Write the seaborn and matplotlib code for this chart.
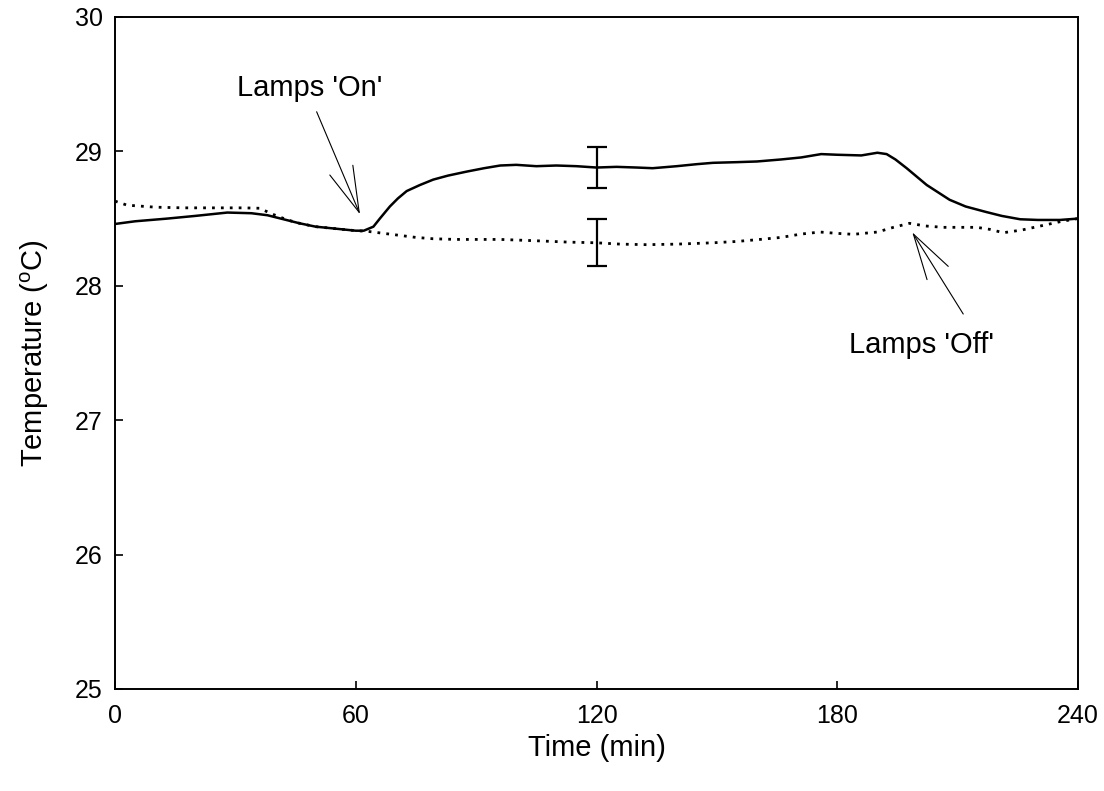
import matplotlib
matplotlib.use("Agg")
import matplotlib.pyplot as plt
import seaborn as sns
import pandas as pd

# Lamps 'On' trace (solid)
time_on = [0, 5, 13, 20, 28, 34, 38, 42, 46, 50, 55, 60, 62, 64.4, 66, 68.5, 70.5, 72.7,
           76, 79.3, 83, 87.7, 92, 96, 100, 105, 110, 115, 120, 125, 130, 134, 140, 145,
           149, 155, 160, 166, 171, 176, 180, 186, 190, 192.3, 194.5, 197.3, 202.3, 208,
           212, 217, 221, 225.6, 230, 235.5, 240]
temp_on = [28.46, 28.48, 28.50, 28.52, 28.545, 28.54, 28.525, 28.495, 28.465, 28.44, 28.425,
           28.41, 28.41, 28.44, 28.50, 28.59, 28.65, 28.705, 28.75, 28.79, 28.82, 28.85,
           28.875, 28.895, 28.90, 28.89, 28.895, 28.89, 28.88, 28.885, 28.88, 28.875, 28.89,
           28.905, 28.915, 28.92, 28.925, 28.94, 28.955, 28.98, 28.975, 28.97, 28.99, 28.98,
           28.94, 28.875, 28.75, 28.64, 28.59, 28.55, 28.52, 28.495, 28.49, 28.49, 28.50]

# Lamps 'Off' trace (dotted)
time_off = [0, 3, 10, 17, 25, 32, 36, 39.5, 43, 46, 50, 55, 60, 63, 67, 71, 75, 79.3, 85, 91,
            96, 105, 113, 120, 126, 132.5, 140, 149, 155, 160.7, 166, 171, 175.7, 180, 184,
            190, 194, 198, 202, 206.4, 214.8, 218, 221.4, 226, 231.4, 236, 240]
temp_off = [28.63, 28.60, 28.585, 28.58, 28.58, 28.58, 28.577, 28.53, 28.49, 28.465, 28.44,
            28.425, 28.41, 28.405, 28.39, 28.375, 28.36, 28.35, 28.345, 28.345, 28.345, 28.335,
            28.325, 28.32, 28.31, 28.306, 28.31, 28.32, 28.33, 28.345, 28.36, 28.385, 28.40,
            28.39, 28.383, 28.40, 28.435, 28.465, 28.445, 28.435, 28.435, 28.42, 28.395,
            28.415, 28.45, 28.48, 28.50]

# Error bars at t = 120 min
err_time = [120, 120]
err_mean = [28.88, 28.325]
err_size = [0.15, 0.175]

x_ticks = [0, 60, 120, 180, 240]
y_ticks = [25, 26, 27, 28, 29, 30]

sns.set_theme(style="ticks")
plt.rcParams["font.family"] = ["Liberation Sans", "DejaVu Sans"]
plt.rcParams["mathtext.fontset"] = "custom"
plt.rcParams["mathtext.rm"] = "Liberation Sans"
for k in ["text.color", "axes.labelcolor", "xtick.color", "ytick.color", "axes.edgecolor"]:
    plt.rcParams[k] = "black"

fig = plt.figure(figsize=(11.04, 7.91), dpi=100)
ax = fig.add_axes([115 / 1104, 1 - 689 / 791, 963 / 1104, 672 / 791])

df_on = pd.DataFrame({"t": time_on, "T": temp_on})
df_off = pd.DataFrame({"t": time_off, "T": temp_off})
sns.lineplot(data=df_on, x="t", y="T", ax=ax, color="black", lw=1.8)
sns.lineplot(data=df_off, x="t", y="T", ax=ax, color="black", lw=2.0,
             linestyle=(0, (1, 2.2)))
ax.errorbar(err_time, err_mean, yerr=err_size, fmt="none", ecolor="black",
            elinewidth=1.6, capsize=7.5, capthick=1.6)

ax.set_xlim(0, 240)
ax.set_ylim(25, 30)
ax.set_xticks(x_ticks)
ax.set_yticks(y_ticks)
ax.tick_params(direction="in", length=6, width=1.2, labelsize=18, color="black",
               labelcolor="black")
ax.tick_params(axis="x", pad=11)
ax.tick_params(axis="y", pad=9)
for s in ax.spines.values():
    s.set_visible(True)
    s.set_linewidth(1.4)
    s.set_color("black")

ax.set_xlabel("Time (min)", fontsize=21, labelpad=4)
ax.set_ylabel("Temperature ($^{\\mathrm{o}}$C)", fontsize=21, labelpad=17)

arrow_kw = dict(arrowstyle="->,head_length=3.3,head_width=0.9", lw=0.8,
                color="black", mutation_scale=10, shrinkA=0, shrinkB=0)
ax.text(48.6, 29.47, "Lamps 'On'", fontsize=21, ha="center", va="center")
ax.annotate("", xy=(61.06, 28.532), xytext=(50.25, 29.295), arrowprops=arrow_kw)
ax.text(201.1, 27.56, "Lamps 'Off'", fontsize=21, ha="center", va="center")
ax.annotate("", xy=(198.7, 28.398), xytext=(211.4, 27.79), arrowprops=arrow_kw)

fig.savefig("out.png", dpi=100)
